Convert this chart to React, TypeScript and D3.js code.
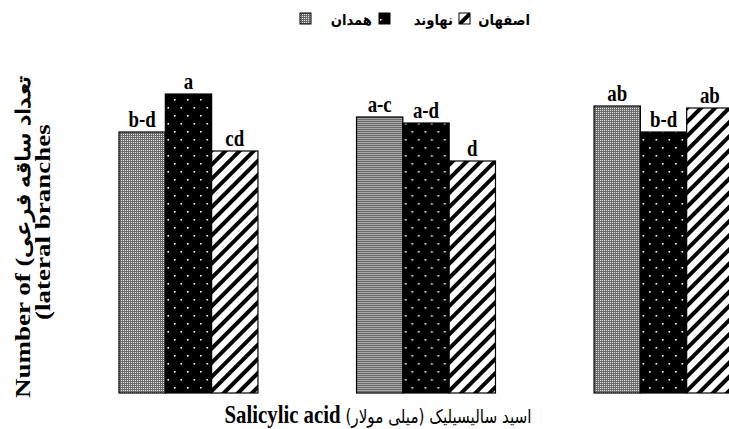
import React from "react";
import * as d3 from "d3";

const groups = ["0", "1", "2"];
const series = ["همدان", "نهاوند", "اصفهان"];
const hamedan = [5.22, 5.52, 5.74];
const nahavand = [5.98, 5.4, 5.22];
const esfahan = [4.84, 4.64, 5.7];
const lettersHamedan = ["b-d", "a-c", "ab"];
const lettersNahavand = ["a", "a-d", "b-d"];
const lettersEsfahan = ["cd", "d", "ab"];

const W = 729;
const H = 429;

export default function App() {
  const values = [hamedan, nahavand, esfahan];
  const letters = [lettersHamedan, lettersNahavand, lettersEsfahan];
  const patterns = ["pGray", "pDots", "pStripe"];

  const x0 = d3.scaleBand<string>().domain(groups).range([119, 733]).paddingInner(0.415).paddingOuter(0);
  const x1 = d3.scaleBand<string>().domain(series).range([0, x0.bandwidth()]).padding(0);
  const y = d3.scaleLinear().domain([0, 8]).range([393, -7]);

  const legendX = [300, 379, 459];
  const legendTextX = [372, 453, 530];
  const serif = "Liberation Serif, DejaVu Serif, serif";

  return (
    <svg width={W} height={H} style={{ position: "absolute", left: 0, top: 0, background: "#fff" }}>
      <defs>
        <pattern id="pGray" width="2" height="2" patternUnits="userSpaceOnUse">
          <rect width="2" height="2" fill="#6a6a6a" />
          <rect width="1" height="1" fill="#e4e4e4" />
        </pattern>
        <pattern id="pDots" width="13" height="16" patternUnits="userSpaceOnUse">
          <rect width="13" height="16" fill="#000" />
          <rect x="3" y="3" width="1.6" height="1.6" fill="#fff" />
          <rect x="9.5" y="11" width="1.6" height="1.6" fill="#fff" />
        </pattern>
        <pattern id="pStripe" width="10" height="10" patternUnits="userSpaceOnUse" patternTransform="rotate(45)">
          <rect width="10" height="10" fill="#fff" />
          <rect x="0" y="0" width="4" height="10" fill="#000" />
        </pattern>
      </defs>

      {groups.map((g, gi) => (
        <g key={g} transform={`translate(${x0(g)},0)`}>
          {series.map((s, si) => {
            const v = values[si][gi];
            const bx = x1(s)!;
            const bw = x1.bandwidth();
            return (
              <g key={s}>
                <rect x={bx} y={y(v)} width={bw} height={y(0) - y(v)} fill={`url(#${patterns[si]})`} stroke="#000" strokeWidth={1.2} />
                <text transform={`translate(${bx + bw / 2},${y(v) - 5}) scale(0.82,1)`} textAnchor="middle" fontFamily={serif} fontWeight="bold" fontSize={23} fill="#000">
                  {letters[si][gi]}
                </text>
              </g>
            );
          })}
        </g>
      ))}

      {series.map((s, si) => (
        <g key={s}>
          <rect x={legendX[si]} y={13} width={11} height={11} fill={`url(#${patterns[si]})`} stroke="#000" strokeWidth={1} />
          <text transform={`translate(${legendTextX[si]},25) scale(0.88,1)`} textAnchor="end" fontFamily="DejaVu Sans" fontWeight="bold" fontSize={15} fill="#000">
            {s}
          </text>
        </g>
      ))}

      <text transform="translate(30,398) rotate(-90) scale(1,0.78)" textAnchor="start" fontFamily={serif} fontWeight="bold" fontSize={27} fill="#000">
        Number of (<tspan fontSize={26}>تعداد ساقه فرعی</tspan>
      </text>
      <text transform="translate(50,320) rotate(-90) scale(1,0.78)" textAnchor="start" fontFamily={serif} fontWeight="bold" fontSize={27} fill="#000">
        (lateral branches
      </text>

      <text transform="translate(378,423) scale(0.8,1)" textAnchor="middle" style={{ direction: "rtl", unicodeBidi: "embed" } as any} fontFamily={serif} fontWeight="bold" fontSize={26} fill="#000">
        <tspan fontFamily="DejaVu Sans" fontWeight="normal" fontSize={19}>اسید سالیسیلیک (میلی مولار) </tspan>Salicylic acid
      </text>
    </svg>
  );
}
